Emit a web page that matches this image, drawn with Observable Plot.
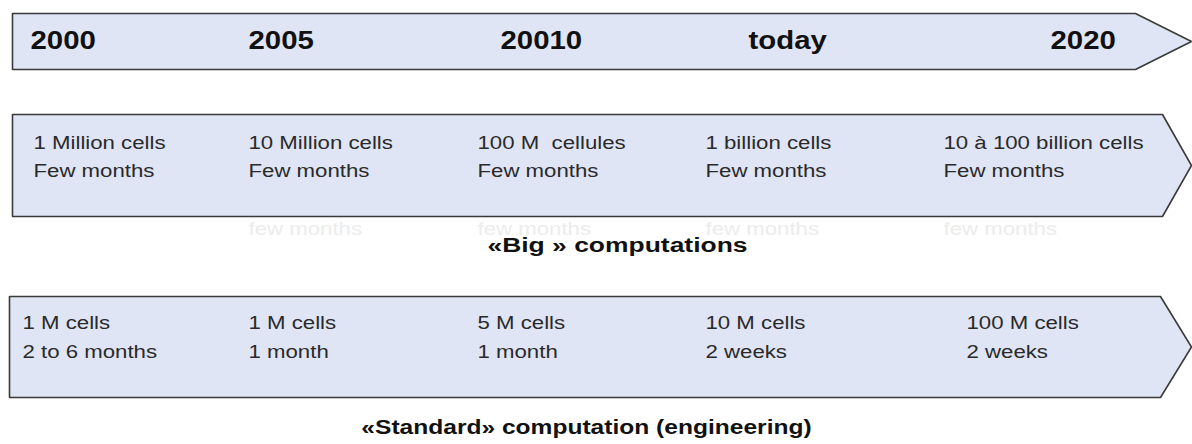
<!DOCTYPE html>
<html>
<head>
<meta charset="utf-8">
<script src="https://cdn.jsdelivr.net/npm/d3@7"></script>
<script src="https://cdn.jsdelivr.net/npm/@observablehq/plot@0.6"></script>
<style>
  html, body { margin: 0; padding: 0; background: #fff; }
  #chart svg text { white-space: pre; }
</style>
</head>
<body>
<div id="chart"></div>
<script>
// ---- data ----
const periods = ["2000", "2005", "20010", "today", "2020"];
const bigCells = ["1 Million cells", "10 Million cells", "100 M  cellules", "1 billion cells", "10 à 100 billion cells"];
const bigTimes = ["Few months", "Few months", "Few months", "Few months", "Few months"];
const bigGhost = ["", "few months", "few months", "few months", "few months"];
const stdCells = ["1 M cells", "1 M cells", "5 M cells", "10 M cells", "100 M cells"];
const stdTimes = ["2 to 6 months", "1 month", "1 month", "2 weeks", "2 weeks"];
const bandTitles = ["«Big » computations", "«Standard» computation (engineering)"];

// ---- layout (page geometry, kept apart from the data) ----
const W = 1192, H = 444;
const arrows = [
  {band: "timeline", left: 12, top: 13, bottom: 69, body: 1135, tip: 1191},
  {band: "big", left: 12, top: 114, bottom: 216, body: 1162, tip: 1191},
  {band: "standard", left: 9, top: 296, bottom: 397, body: 1160, tip: 1191}
];
const colTop = [30, 248, 500, 748, 1050];
const colBig = [33, 248, 477, 705, 943];
const colStd = [22, 248, 477, 705, 966];

const arrowPts = arrows.flatMap(a => {
  const mid = (a.top + a.bottom) / 2;
  return [
    {band: a.band, x: a.left, y: a.top},
    {band: a.band, x: a.body, y: a.top},
    {band: a.band, x: a.tip, y: mid},
    {band: a.band, x: a.body, y: a.bottom},
    {band: a.band, x: a.left, y: a.bottom},
    {band: a.band, x: a.left, y: a.top}
  ];
});

const topRows = periods.map((t, i) => ({x: colTop[i], y: 40, t}));
const bigRows = bigCells.flatMap((c, i) => [
  {x: colBig[i], y: 142, t: c},
  {x: colBig[i], y: 170, t: bigTimes[i]}
]);
const ghostRows = bigGhost.map((t, i) => ({x: colBig[i], y: 228, t})).filter(d => d.t);
const stdRows = stdCells.flatMap((c, i) => [
  {x: colStd[i], y: 322, t: c},
  {x: colStd[i], y: 351, t: stdTimes[i]}
]);
const bigTitle = [{x: 617, y: 245, t: bandTitles[0]}];
const stdTitle = [{x: 586, y: 427, t: bandTitles[1]}];

const font = "Liberation Sans, Arial, sans-serif";

// text marks in drawing order, each with the horizontal glyph stretch seen in the source picture
const textLayers = [
  {rows: topRows, sx: 1.13, opts: {textAnchor: "start", fontSize: 26, fontWeight: "bold", fill: "#111"}},
  {rows: bigRows, sx: 1.17, opts: {textAnchor: "start", fontSize: 19, fill: "#2a2a2a"}},
  {rows: ghostRows, sx: 1.17, opts: {textAnchor: "start", fontSize: 19, fill: "#ececec"}},
  {rows: stdRows, sx: 1.17, opts: {textAnchor: "start", fontSize: 19, fill: "#2a2a2a"}},
  {rows: bigTitle, sx: 1.26, opts: {textAnchor: "middle", fontSize: 21, fontWeight: "bold", fill: "#111"}},
  {rows: stdTitle, sx: 1.17, opts: {textAnchor: "middle", fontSize: 21, fontWeight: "bold", fill: "#111"}}
];

const chart = Plot.plot({
  width: W,
  height: H,
  margin: 0,
  x: {domain: [0, W], range: [0, W], axis: null},
  y: {domain: [0, H], range: [0, H], axis: null},
  style: {background: "#fff", fontFamily: font},
  marks: [
    Plot.line(arrowPts, {x: "x", y: "y", z: "band", fill: "#dfe5f5", stroke: "#3a3a3a", strokeWidth: 1.6, strokeLinejoin: "miter"}),
    ...textLayers.map(L => Plot.text(L.rows, {x: "x", y: "y", text: "t", ...L.opts}))
  ]
});

// widen glyphs horizontally around each text's own anchor point
// (Plot keeps its baseline offset in the text's own y attribute, which is left untouched)
const sxScale = chart.scale("x"), syScale = chart.scale("y");
const textGroups = Array.from(chart.querySelectorAll("g")).filter(g => g.querySelector(":scope > text"));
textGroups.forEach((g, gi) => {
  const L = textLayers[gi];
  if (!L) return;
  g.querySelectorAll(":scope > text").forEach((el, j) => {
    const d = L.rows[j];
    if (!d) return;
    const px = sxScale.apply(d.x), py = syScale.apply(d.y);
    el.removeAttribute("x");
    el.setAttribute("transform", `translate(${px},${py}) scale(${L.sx},1)`);
  });
});

document.getElementById("chart").appendChild(chart);
</script>
</body>
</html>
